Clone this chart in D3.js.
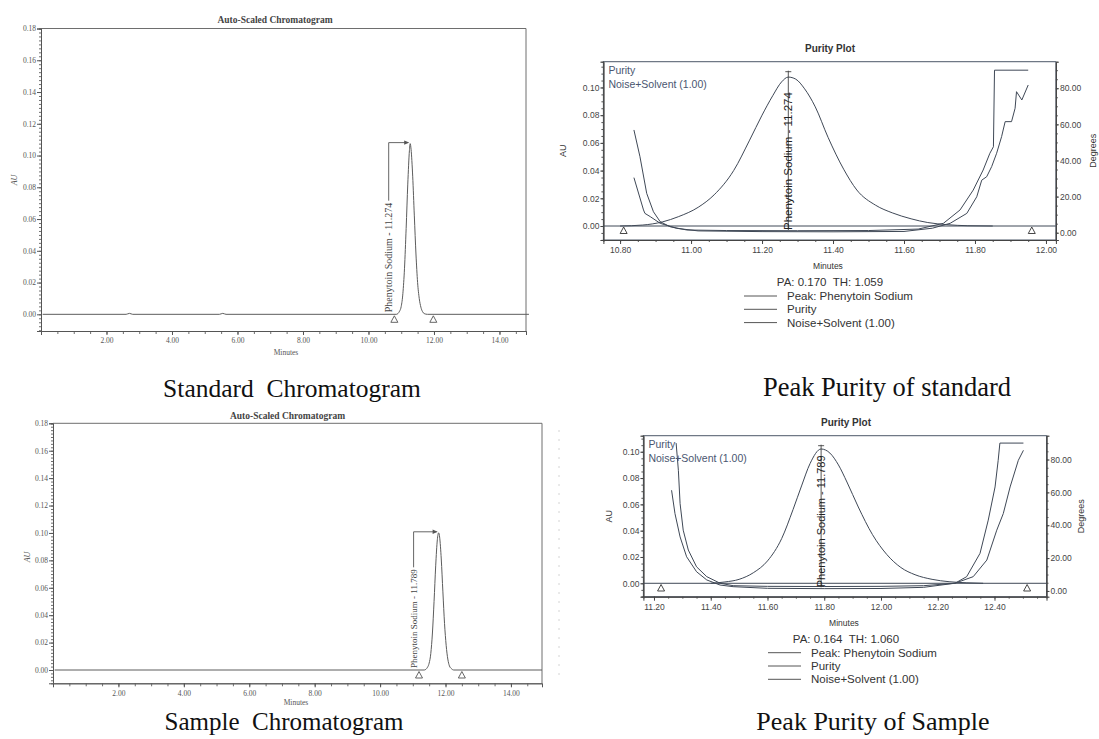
<!DOCTYPE html>
<html>
<head>
<meta charset="utf-8">
<script src="https://cdn.jsdelivr.net/npm/d3@7"></script>
<style>
  html, body { margin: 0; padding: 0; background: #fff; }
  svg { display: block; }
</style>
</head>
<body>
<svg id="chart" width="1099" height="739"></svg>
<script>
// ---- tick values ----
const chromTicksY = [0, 0.02, 0.04, 0.06, 0.08, 0.10, 0.12, 0.14, 0.16, 0.18];
const chromTicksX = [2, 4, 6, 8, 10, 12, 14];
const purityTicksAU = [0, 0.02, 0.04, 0.06, 0.08, 0.10];
const purityTicksDeg = [0, 20, 40, 60, 80];
const stdPurityTicksX = [10.8, 11.0, 11.2, 11.4, 11.6, 11.8, 12.0];
const smpPurityTicksX = [11.2, 11.4, 11.6, 11.8, 12.0, 12.2, 12.4];

// ---- peaks ----
const stdPeakRT = 11.274;
const smpPeakRT = 11.789;
const stdPA = ['0.170', '1.059'];
const smpPA = ['0.164', '1.060'];
const stdMarks = [10.79, 11.98];     // integration start / end triangles
const smpMarks = [11.19, 12.50];
const stdPurityMarks = [10.81, 11.96];
const smpPurityMarks = [11.225, 12.515];
const legendNames = ['Peak: Phenytoin Sodium', 'Purity', 'Noise+Solvent (1.00)'];

// ---- chromatogram traces [minutes, AU] ----
const stdChromTrace = [[0.05,0],[2.60,0],[2.70,0.0006],[2.80,0],[5.45,0],[5.55,0.0006],[5.65,0],
  [10.85,0],[10.95,0.002],[11.00,0.005],[11.05,0.013],[11.10,0.029],[11.15,0.054],[11.20,0.082],
  [11.25,0.103],[11.274,0.1075],[11.30,0.104],[11.35,0.087],[11.40,0.062],[11.45,0.038],[11.50,0.020],
  [11.55,0.010],[11.60,0.0045],[11.65,0.0017],[11.70,0.0005],[11.80,0],[14.90,0]];
const smpChromTrace = [[0.05,0],[11.35,0],[11.45,0.002],[11.50,0.005],[11.55,0.012],[11.60,0.027],
  [11.65,0.050],[11.70,0.076],[11.75,0.095],[11.789,0.1001],[11.82,0.097],[11.87,0.081],[11.92,0.057],
  [11.97,0.034],[12.02,0.018],[12.07,0.008],[12.12,0.003],[12.18,0.001],[12.25,0],[14.95,0]];

// ---- purity plot, standard ----
const stdPurityPeak = [[10.80,0],[10.864,0.0007],[10.92,0.003],[10.964,0.0067],[11.02,0.0135],[11.065,0.0225],
  [11.12,0.040],[11.165,0.062],[11.20,0.080],[11.23,0.094],[11.255,0.104],[11.274,0.1075],[11.295,0.106],
  [11.32,0.099],[11.35,0.086],[11.386,0.064],[11.43,0.041],[11.467,0.026],[11.52,0.015],[11.567,0.0095],
  [11.62,0.0052],[11.667,0.0025],[11.72,0.001],[11.78,0.0002],[11.85,0]];
const stdPurityAngle = [[10.839,30.5],[10.866,12.6],[10.870,10.7],[10.885,8.9],[10.913,5.2],[10.960,2.4],
  [11.02,1.0],[11.20,0.6],[11.40,0.5],[11.60,0.7],[11.68,2.5],[11.730,5.2],[11.777,10.7],[11.805,19.9],
  [11.819,29.1],[11.833,31.0],[11.847,36.6],[11.861,44.0],[11.875,53.2],[11.885,61.5],[11.903,61.5],
  [11.913,68.9],[11.917,78.1],[11.932,73.5],[11.950,81.8]];
const stdPurityNoise = [[10.839,56.9],[10.856,42.1],[10.875,21.8],[10.894,11.6],[10.913,6.1],[10.941,3.3],
  [10.988,1.5],[11.10,1.2],[11.30,1.1],[11.50,1.2],[11.64,2.0],[11.711,5.2],[11.758,12.6],[11.795,23.6],
  [11.823,34.7],[11.842,44.0],[11.852,47.6],[11.855,90],[11.950,90]];

// ---- purity plot, sample ----
const smpPurityPeak = [[11.40,0],[11.45,0.001],[11.50,0.003],[11.55,0.008],[11.60,0.017],[11.65,0.034],
  [11.69,0.056],[11.72,0.074],[11.75,0.091],[11.789,0.1021],[11.82,0.099],[11.85,0.090],[11.88,0.077],
  [11.92,0.058],[11.97,0.037],[12.02,0.022],[12.07,0.012],[12.12,0.0065],[12.18,0.003],[12.24,0.0012],
  [12.30,0.0004],[12.36,0]];
const smpPurityAngle = [[11.262,61.3],[11.274,47.1],[11.292,32.9],[11.315,20.8],[11.350,11.7],[11.386,6.7],
  [11.433,3.6],[11.479,2.6],[11.60,1.6],[11.80,1.4],[12.00,1.5],[12.15,2.2],[12.261,4.7],[12.325,8.7],
  [12.373,18.8],[12.408,37.0],[12.431,47.1],[12.455,63.3],[12.484,79.5],[12.502,85.6]];
const smpPurityNoise = [[11.278,90],[11.286,73.4],[11.292,53.2],[11.303,37.0],[11.321,24.9],[11.350,14.7],
  [11.386,8.7],[11.433,4.7],[11.479,3.2],[11.60,2.8],[11.80,2.7],[12.00,2.8],[12.15,3.2],[12.261,4.7],
  [12.302,8.7],[12.349,22.9],[12.378,43.1],[12.402,63.3],[12.413,79.5],[12.419,90],[12.502,90]];

const svg = d3.select('#chart');
const SERIF = '"Liberation Serif", "Times New Roman", serif';
const SANS = '"Liberation Sans", Arial, sans-serif';

function styleAxis(sel, size, family, color) {
  sel.attr('font-size', null).attr('font-family', null);
  sel.selectAll('.domain').attr('stroke', color);
  sel.selectAll('.tick line').attr('stroke', color);
  sel.selectAll('.tick text').attr('fill', color)
    .style('font-size', size + 'px').style('font-family', family);
}

function triangle(g, cx, cy, color) {
  g.append('path')
    .attr('d', `M${cx},${cy - 3.5}L${cx + 3.5},${cy + 3}L${cx - 3.5},${cy + 3}Z`)
    .attr('fill', 'none').attr('stroke', color).attr('stroke-width', 0.9);
}

function addText(g, x, y, str, o) {
  const t = g.append('text').attr('x', x).attr('y', y).text(str)
    .style('font-family', o.family).style('font-size', o.size + 'px')
    .attr('fill', o.fill || '#222').attr('text-anchor', o.anchor || 'middle');
  if (o.weight) t.style('font-weight', o.weight);
  if (o.rotate) t.attr('transform', `rotate(-90,${x},${y})`);
  if (o.pre) t.style('white-space', 'pre');
  return t;
}

// ---------------- chromatogram ----------------
function drawChrom(o) {
  const ink = '#6e6e6e';
  const x = d3.scaleLinear().domain(o.xDom).range([o.left, o.right]);
  const y = d3.scaleLinear().domain(o.yDom).range([o.bottom, o.top]);
  const g = svg.append('g');

  g.append('path').attr('d', `M${o.left},${o.top}H${o.right}V${o.bottom}`)
    .attr('fill', 'none').attr('stroke', ink);

  const minorY = d3.range(-0.01, 0.1801, 0.0025).filter(v => v >= o.yDom[0]);
  g.append('g').attr('transform', `translate(${o.left},0)`)
    .call(d3.axisLeft(y).tickValues(minorY).tickSize(2).tickFormat(''))
    .call(s => styleAxis(s, 7, SERIF, ink));
  g.append('g').attr('transform', `translate(${o.left},0)`)
    .call(d3.axisLeft(y).tickValues(chromTicksY).tickSize(4).tickPadding(1).tickFormat(d3.format('.2f')))
    .call(s => styleAxis(s, 7.5, SERIF, '#555'));

  const minorX = d3.range(0.5, o.xDom[1], 0.5);
  g.append('g').attr('transform', `translate(0,${o.bottom})`)
    .call(d3.axisBottom(x).tickValues(minorX).tickSize(3).tickFormat(''))
    .call(s => styleAxis(s, 7, SERIF, ink));
  g.append('g').attr('transform', `translate(0,${o.bottom})`)
    .call(d3.axisBottom(x).tickValues(chromTicksX).tickSize(4).tickPadding(3).tickFormat(d3.format('.2f')))
    .call(s => styleAxis(s, 7.5, SERIF, '#555'));

  const line = d3.line().x(d => x(d[0])).y(d => y(d[1])).curve(d3.curveMonotoneX);
  g.append('path').datum(o.trace).attr('d', line)
    .attr('fill', 'none').attr('stroke', '#5c5c5c').attr('stroke-width', 1);

  o.marks.forEach(t => triangle(g, x(t), y(0) + 5, '#555'));

  // peak label with leader and arrow
  const apex = o.trace.find(d => d[0] === o.rt);
  const lx = x(o.rt) + o.labelDx;
  const by = y(0) - 2;
  const lab = addText(g, lx, by, `Phenytoin Sodium - ${o.rt.toFixed(3)}`,
    { family: SERIF, size: o.labelSize, fill: '#444', anchor: 'start', rotate: true });
  lab.attr('dy', '0.35em');
  const len = lab.node().getComputedTextLength();
  const ay = y(apex[1]) - 1;
  g.append('path').attr('d', `M${lx},${by - len - 2}V${ay}H${x(o.rt) - 2}`)
    .attr('fill', 'none').attr('stroke', '#555').attr('stroke-width', 0.9);
  g.append('path').attr('d', `M${x(o.rt) - 1},${ay}l-5,-2.2v4.4z`).attr('fill', '#555');

  addText(g, o.titleX, o.titleY, 'Auto-Scaled Chromatogram',
    { family: SERIF, size: 9.5, weight: 'bold', fill: '#444' });
  addText(g, o.minX, o.minY, 'Minutes', { family: SERIF, size: 7.5, fill: '#555' });
  addText(g, o.auX, o.auY, 'AU', { family: SERIF, size: 8, fill: '#555', rotate: true })
    .style('font-style', 'italic');
}

// ---------------- purity plot ----------------
function drawPurity(o) {
  const ink = '#555';
  const lineCol = '#3f4856';
  const x = d3.scaleLinear().domain(o.xDom).range([o.left, o.right]);
  const yA = d3.scaleLinear().domain(o.auDom).range([o.bottom, o.top]);
  const yD = d3.scaleLinear().domain(o.degDom).range([o.bottom, o.top]);
  const g = svg.append('g');

  g.append('rect').attr('x', o.left).attr('y', o.top)
    .attr('width', o.right - o.left).attr('height', o.bottom - o.top)
    .attr('fill', 'none').attr('stroke', '#4d5868');

  g.append('g').attr('transform', `translate(${o.left},0)`)
    .call(d3.axisLeft(yA).tickValues(d3.range(-0.01, o.auDom[1], 0.005).filter(v => v >= o.auDom[0])).tickSize(2).tickFormat(''))
    .call(s => styleAxis(s, 8, SANS, ink));
  g.append('g').attr('transform', `translate(${o.left},0)`)
    .call(d3.axisLeft(yA).tickValues(purityTicksAU).tickSize(3).tickPadding(1).tickFormat(d3.format('.2f')))
    .call(s => styleAxis(s, 8.5, SANS, '#444'));

  g.append('g').attr('transform', `translate(${o.right},0)`)
    .call(d3.axisRight(yD).tickValues(d3.range(0, o.degDom[1], 5)).tickSize(2).tickFormat(''))
    .call(s => styleAxis(s, 8, SANS, ink));
  g.append('g').attr('transform', `translate(${o.right},0)`)
    .call(d3.axisRight(yD).tickValues(purityTicksDeg).tickSize(3).tickPadding(1).tickFormat(d3.format('.2f')))
    .call(s => styleAxis(s, 8.5, SANS, '#444'));

  g.append('g').attr('transform', `translate(0,${o.bottom})`)
    .call(d3.axisBottom(x).tickValues(d3.range(Math.ceil(o.xDom[0] * 20) / 20, o.xDom[1], 0.05)).tickSize(2).tickFormat(''))
    .call(s => styleAxis(s, 8, SANS, ink));
  g.append('g').attr('transform', `translate(0,${o.bottom})`)
    .call(d3.axisBottom(x).tickValues(o.xTicks).tickSize(4).tickPadding(3).tickFormat(d3.format('.2f')))
    .call(s => styleAxis(s, 8.5, SANS, '#444'));

  const clipId = 'clip' + o.id;
  g.append('clipPath').attr('id', clipId).append('rect')
    .attr('x', o.left).attr('y', o.top).attr('width', o.right - o.left).attr('height', o.bottom - o.top);
  const plot = g.append('g').attr('clip-path', `url(#${clipId})`);

  plot.append('line').attr('x1', o.left).attr('x2', o.right).attr('y1', yA(0)).attr('y2', yA(0))
    .attr('stroke', lineCol);

  const auLine = d3.line().x(d => x(d[0])).y(d => yA(d[1])).curve(d3.curveMonotoneX);
  const degLine = d3.line().x(d => x(d[0])).y(d => yD(d[1]));
  plot.append('path').datum(o.peak).attr('d', auLine)
    .attr('fill', 'none').attr('stroke', lineCol).attr('stroke-width', 1);
  [o.angle, o.noise].forEach(s => plot.append('path').datum(s).attr('d', degLine)
    .attr('fill', 'none').attr('stroke', lineCol).attr('stroke-width', 1));

  o.marks.forEach(t => triangle(plot, x(t), o.markY, '#333'));

  // peak marker
  const px = x(o.rt);
  plot.append('path').attr('d', `M${px},${o.top + 9}V${yA(0) + 4}M${px - 3},${o.top + 10}H${px + 3}`)
    .attr('stroke', '#444').attr('fill', 'none').attr('stroke-width', 0.9);
  addText(g, px, yA(0) + 4, `Phenytoin Sodium - ${o.rt.toFixed(3)}`,
    { family: SANS, size: o.labelSize, fill: '#222', anchor: 'start', rotate: true }).attr('dy', '0.35em');

  addText(g, o.left + 5, o.top + 12.5, 'Purity', { family: SANS, size: 10.5, fill: '#4a5670', anchor: 'start' });
  addText(g, o.left + 5, o.top + 26.5, 'Noise+Solvent (1.00)', { family: SANS, size: 10.5, fill: '#4a5670', anchor: 'start' });

  addText(g, o.titleX, o.top - 10, 'Purity Plot', { family: SANS, size: 10, weight: 'bold', fill: '#333' });
  addText(g, o.auX, (o.top + o.bottom) / 2, 'AU', { family: SANS, size: 9, fill: '#333', rotate: true });
  addText(g, o.degX, (o.top + o.bottom) / 2, 'Degrees', { family: SANS, size: 9, fill: '#333', rotate: true });
  addText(g, o.titleX - 2, o.bottom + 29, 'Minutes', { family: SANS, size: 8.5, fill: '#333' });
  addText(g, o.titleX, o.bottom + 46, `PA: ${o.pa[0]}  TH: ${o.pa[1]}`,
    { family: SANS, size: 11.5, fill: '#333', pre: true });
  legendNames.forEach((name, i) => {
    const ly = o.bottom + 56 + i * 13.3;
    g.append('line').attr('x1', o.legX).attr('x2', o.legX + 33).attr('y1', ly).attr('y2', ly)
      .attr('stroke', '#555');
    addText(g, o.legX + 43, ly + 4, name, { family: SANS, size: 11.5, fill: '#333', anchor: 'start' });
  });
}

drawChrom({
  left: 41, right: 526, top: 28.5, bottom: 331,
  xDom: [0, 14.81], yDom: [-0.0105, 0.18],
  trace: stdChromTrace, rt: stdPeakRT, marks: stdMarks, labelDx: -21.5, labelSize: 10,
  titleX: 275, titleY: 22.5, minX: 286, minY: 354.5, auX: 17, auY: 180
});
drawChrom({
  left: 53, right: 542, top: 423.3, bottom: 683.3,
  xDom: [0, 14.95], yDom: [-0.0097, 0.18],
  trace: smpChromTrace, rt: smpPeakRT, marks: smpMarks, labelDx: -25, labelSize: 9,
  titleX: 287.5, titleY: 418.5, minX: 296, minY: 705, auX: 30, auY: 557
});
drawPurity({
  id: 'std', left: 603.4, right: 1055.9, top: 61.7, bottom: 240,
  xDom: [10.753, 12.028], auDom: [-0.0101, 0.1186], degDom: [-4.04, 94.7],
  xTicks: stdPurityTicksX, peak: stdPurityPeak, angle: stdPurityAngle, noise: stdPurityNoise,
  rt: stdPeakRT, marks: stdPurityMarks, markY: 230.5, labelSize: 11.5, pa: stdPA,
  titleX: 830, auX: 566, degX: 1096, legX: 744
});
drawPurity({
  id: 'smp', left: 643.4, right: 1046.5, top: 435.7, bottom: 596.7,
  xDom: [11.1627, 12.5833], auDom: [-0.0102, 0.1122], degDom: [-3.5, 94.5],
  xTicks: smpPurityTicksX, peak: smpPurityPeak, angle: smpPurityAngle, noise: smpPurityNoise,
  rt: smpPeakRT, marks: smpPurityMarks, markY: 588, labelSize: 11, pa: smpPA,
  titleX: 846, auX: 612, degX: 1084, legX: 768
});

// faint scan ghost between the lower panels
svg.append('line').attr('x1', 559).attr('x2', 559).attr('y1', 430).attr('y2', 680)
  .attr('stroke', '#d4d4d4').attr('stroke-dasharray', '2,7');

// captions under each panel
const captions = [
  ['Standard  Chromatogram', 292, 397, 25.5],
  ['Peak Purity of standard', 887, 396, 26.5],
  ['Sample  Chromatogram', 284, 730, 25],
  ['Peak Purity of Sample', 873, 730, 26]
];
captions.forEach(c => addText(svg, c[1], c[2], c[0], { family: SERIF, size: c[3], fill: '#111', pre: true }));
</script>
</body>
</html>
